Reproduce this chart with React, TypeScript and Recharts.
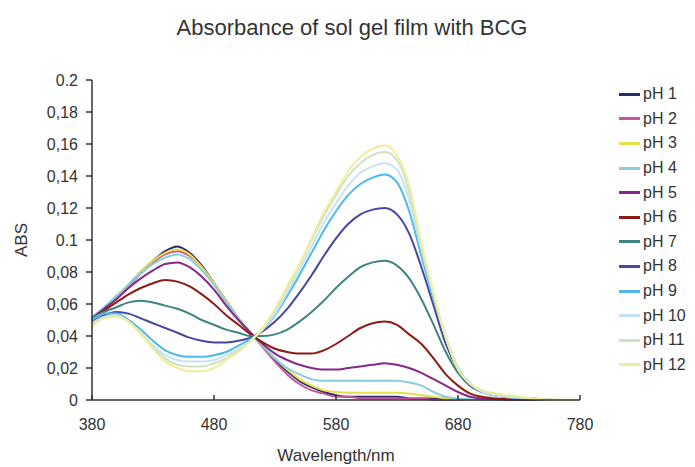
import { LineChart, Line, XAxis, YAxis, Legend } from "recharts";

const wavelengths = [
  380, 390, 400, 410, 420, 430, 440, 450, 460, 470, 480, 490, 500, 510, 520, 530, 540, 550, 560,
  570, 580, 590, 600, 610, 620, 630, 640, 650, 660, 670, 680, 690, 700, 710, 720, 740, 760, 780,
];

const ph1 = [
  0.051, 0.057, 0.064, 0.072, 0.08, 0.087, 0.093, 0.096, 0.092, 0.084, 0.073, 0.062, 0.051, 0.042,
  0.034, 0.025, 0.018, 0.012, 0.008, 0.005, 0.003, 0.002, 0.002, 0.002, 0.002, 0.002, 0.001, 0.001,
  0.001, 0.001, 0.0005, 0, 0, 0, 0, 0, 0, 0,
];
const ph2 = [
  0.05, 0.057, 0.064, 0.071, 0.079, 0.086, 0.091, 0.093, 0.09, 0.083, 0.073, 0.062, 0.051, 0.042,
  0.033, 0.024, 0.016, 0.01, 0.006, 0.004, 0.002, 0.002, 0.001, 0.001, 0.001, 0.001, 0.001, 0.001,
  0, 0, 0, 0, 0, 0, 0, 0, 0, 0,
];
const ph3 = [
  0.051, 0.058, 0.065, 0.072, 0.08, 0.087, 0.092, 0.094, 0.091, 0.083, 0.073, 0.062, 0.051, 0.042,
  0.034, 0.026, 0.019, 0.013, 0.009, 0.006, 0.005, 0.0045, 0.0045, 0.0045, 0.0045, 0.0045, 0.004,
  0.003, 0.002, 0.001, 0.0005, 0, 0, 0, 0, 0, 0, 0,
];
const ph4 = [
  0.052, 0.058, 0.065, 0.072, 0.079, 0.085, 0.089, 0.091, 0.088, 0.081, 0.072, 0.061, 0.051, 0.042,
  0.034, 0.026, 0.02, 0.016, 0.013, 0.012, 0.012, 0.012, 0.012, 0.012, 0.012, 0.012, 0.011, 0.009,
  0.005, 0.002, 0.001, 0.0005, 0, 0, 0, 0, 0, 0,
];
const ph5 = [
  0.051, 0.057, 0.063, 0.07, 0.076, 0.081, 0.085, 0.086, 0.083, 0.077, 0.069, 0.059, 0.05, 0.042,
  0.035, 0.029, 0.025, 0.022, 0.02, 0.019, 0.019, 0.02, 0.021, 0.022, 0.023, 0.022, 0.02, 0.017,
  0.013, 0.009, 0.005, 0.002, 0.001, 0.0005, 0, 0, 0, 0,
];
const ph6 = [
  0.051, 0.056, 0.061, 0.066, 0.07, 0.073, 0.075, 0.074, 0.071, 0.066, 0.06, 0.053, 0.047, 0.041,
  0.036, 0.032, 0.03, 0.029, 0.029, 0.031, 0.035, 0.04, 0.045, 0.048, 0.049, 0.047, 0.041, 0.035,
  0.026, 0.016, 0.009, 0.004, 0.002, 0.001, 0.0005, 0, 0, 0,
];
const ph7 = [
  0.051, 0.055, 0.058, 0.061, 0.062, 0.061, 0.059, 0.057, 0.054, 0.05, 0.047, 0.044, 0.042, 0.04,
  0.04, 0.041, 0.044, 0.049, 0.055, 0.062, 0.07, 0.077, 0.083, 0.086, 0.087, 0.084, 0.076, 0.063,
  0.047, 0.03, 0.017, 0.009, 0.005, 0.003, 0.002, 0.0005, 0, 0,
];
const ph8 = [
  0.049, 0.053, 0.055, 0.054, 0.051, 0.048, 0.045, 0.042, 0.039, 0.037, 0.036, 0.036, 0.037, 0.039,
  0.043, 0.049, 0.057, 0.067, 0.078, 0.09, 0.101, 0.11, 0.116, 0.119, 0.12, 0.116, 0.104, 0.083,
  0.059, 0.035, 0.019, 0.009, 0.005, 0.003, 0.002, 0.001, 0, 0,
];
const ph9 = [
  0.05, 0.054, 0.054, 0.05, 0.044, 0.037, 0.031, 0.028, 0.027, 0.027, 0.028, 0.03, 0.034, 0.038,
  0.044, 0.053, 0.065, 0.078, 0.092, 0.106, 0.118, 0.128, 0.135, 0.139, 0.141, 0.136, 0.118, 0.09,
  0.063, 0.039, 0.02, 0.01, 0.005, 0.003, 0.002, 0.001, 0, 0,
];
const ph10 = [
  0.048, 0.052, 0.053, 0.049, 0.042, 0.034, 0.028, 0.025, 0.024, 0.024, 0.025, 0.028, 0.032, 0.037,
  0.044, 0.054, 0.067, 0.081, 0.096, 0.111, 0.123, 0.134, 0.142, 0.146, 0.148, 0.144, 0.125, 0.094,
  0.065, 0.039, 0.02, 0.01, 0.005, 0.003, 0.002, 0.001, 0, 0,
];
const ph11 = [
  0.047, 0.051, 0.052, 0.049, 0.042, 0.033, 0.026, 0.022, 0.021, 0.021, 0.023, 0.026, 0.031, 0.037,
  0.045, 0.056, 0.07, 0.084, 0.1, 0.115, 0.128, 0.14, 0.148, 0.153, 0.155, 0.15, 0.13, 0.096,
  0.066, 0.039, 0.02, 0.01, 0.006, 0.004, 0.003, 0.001, 0, 0,
];
const ph12 = [
  0.046, 0.051, 0.052, 0.049, 0.041, 0.032, 0.024, 0.02, 0.018, 0.018, 0.02, 0.025, 0.03, 0.037,
  0.045, 0.057, 0.071, 0.085, 0.101, 0.117, 0.13, 0.143, 0.152, 0.157, 0.159, 0.153, 0.134, 0.098,
  0.067, 0.039, 0.019, 0.01, 0.006, 0.004, 0.003, 0.001, 0.0003, 0,
];

const seriesNames = [
  "pH 1", "pH 2", "pH 3", "pH 4", "pH 5", "pH 6",
  "pH 7", "pH 8", "pH 9", "pH 10", "pH 11", "pH 12",
];
const seriesValues = [ph1, ph2, ph3, ph4, ph5, ph6, ph7, ph8, ph9, ph10, ph11, ph12];
const seriesColors = [
  "#2b2a6b", "#c5559f", "#e6df45", "#86cfe0", "#87288a", "#8b1c17",
  "#3e8480", "#4647a3", "#4cb9ea", "#c6e3f3", "#cfe2c4", "#f1ee9a",
];

const xTicks = [380, 480, 580, 680, 780];
const yTicks = [0, 0.02, 0.04, 0.06, 0.08, 0.1, 0.12, 0.14, 0.16, 0.18, 0.2];

const data = wavelengths.map((w, i) => {
  const row: Record<string, number> = { wavelength: w };
  seriesNames.forEach((name, s) => {
    row[name] = seriesValues[s][i];
  });
  return row;
});

const font = '"Liberation Sans", Arial, sans-serif';
const textColor = "#333";

// 0.1 and 0.2 come out with a point in the original, the rest with a comma
const formatY = (v: number) => {
  if (v === 0) return "0";
  if (v === 0.1 || v === 0.2) return String(v);
  return String(v).replace(".", ",");
};

// keep the legend in pH order rather than the default alphabetical one
const renderLegend = (props: any) => {
  const items = [...(props.payload || [])].sort(
    (a: any, b: any) => seriesNames.indexOf(a.value) - seriesNames.indexOf(b.value)
  );
  return (
    <div>
      {items.map((entry: any) => (
        <div
          key={entry.value}
          style={{ display: "flex", alignItems: "center", height: 24.6, fontSize: 16, color: textColor }}
        >
          <span
            style={{ display: "inline-block", width: 21, height: 3, background: entry.color, marginRight: 3 }}
          />
          <span>{entry.value}</span>
        </div>
      ))}
    </div>
  );
};

export default function App() {
  return (
    <div style={{ position: "relative", width: 687, height: 459, fontFamily: font, background: "#fff" }}>
      <div
        style={{
          position: "absolute",
          left: 0,
          top: 7,
          width: 688,
          textAlign: "center",
          fontSize: 22,
          lineHeight: "25px",
          color: textColor,
        }}
      >
        Absorbance of sol gel film with BCG
      </div>
      <div
        style={{
          position: "absolute",
          left: -16,
          top: 222,
          width: 60,
          height: 20,
          lineHeight: "20px",
          textAlign: "center",
          fontSize: 17,
          color: textColor,
          transform: "rotate(-90deg)",
        }}
      >
        ABS
      </div>
      <LineChart
        width={687}
        height={459}
        data={data}
        margin={{ top: 72, right: 115, bottom: 37, left: 0 }}
        style={{ fontFamily: font }}
      >
        <XAxis
          dataKey="wavelength"
          type="number"
          domain={[380, 780]}
          ticks={xTicks}
          height={30}
          tickSize={-5}
          tickMargin={24}
          axisLine={{ stroke: textColor, strokeWidth: 1.5 }}
          tickLine={{ stroke: textColor, strokeWidth: 1.5 }}
          tick={{ fill: textColor, fontSize: 16 }}
          label={{ value: "Wavelength/nm", position: "bottom", offset: 19, fill: textColor, fontSize: 17 }}
        />
        <YAxis
          type="number"
          domain={[0, 0.2]}
          ticks={yTicks}
          width={84}
          tickSize={6}
          tickMargin={8}
          tickFormatter={formatY}
          axisLine={{ stroke: textColor, strokeWidth: 1.5 }}
          tickLine={{ stroke: textColor, strokeWidth: 1.5 }}
          tick={{ fill: textColor, fontSize: 16 }}
        />
        <Legend
          layout="vertical"
          align="center"
          verticalAlign="middle"
          wrapperStyle={{ left: 611, top: 74, width: 76 }}
          content={renderLegend}
        />
        {seriesNames.map((name, s) => (
          <Line
            key={name}
            type="monotone"
            dataKey={name}
            name={name}
            stroke={seriesColors[s]}
            strokeWidth={2}
            dot={false}
            isAnimationActive={false}
          />
        ))}
      </LineChart>
    </div>
  );
}
